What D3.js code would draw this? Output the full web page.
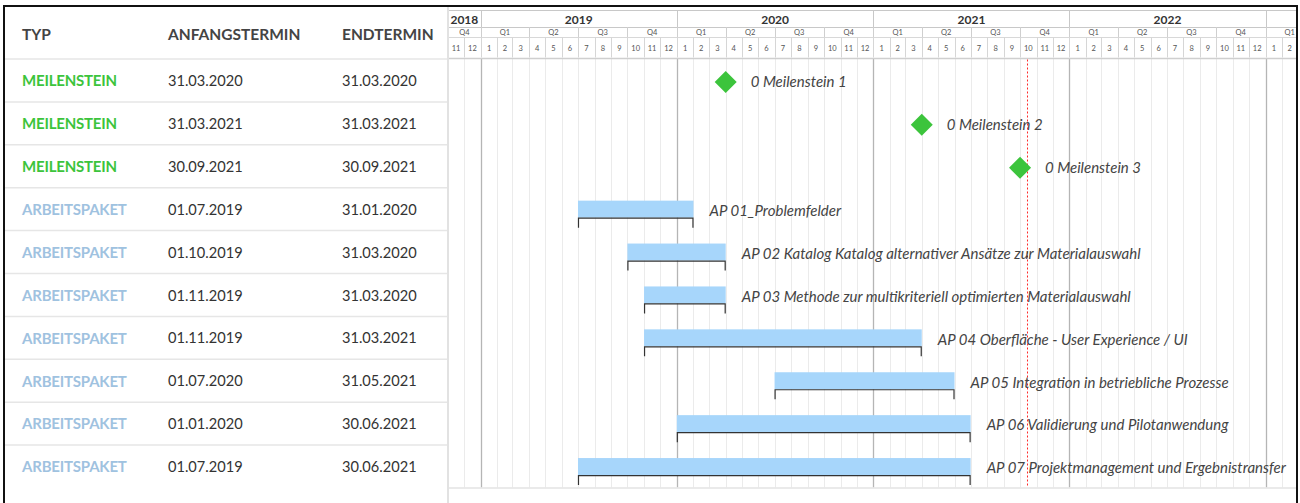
<!DOCTYPE html>
<html><head><meta charset="utf-8">
<script src="https://cdn.jsdelivr.net/npm/d3@7/dist/d3.min.js"></script>
<style>
html,body{margin:0;padding:0;background:#fff;}
svg{display:block;font-family:Lato,"Open Sans",sans-serif;}
</style></head>
<body>
<svg id="chart" width="1300" height="503"></svg>
<script>
// ---- data ----
const columnHeaders = ["TYP", "ANFANGSTERMIN", "ENDTERMIN"];
const types = ["MEILENSTEIN","MEILENSTEIN","MEILENSTEIN","ARBEITSPAKET","ARBEITSPAKET","ARBEITSPAKET","ARBEITSPAKET","ARBEITSPAKET","ARBEITSPAKET","ARBEITSPAKET"];
const startDates = ["31.03.2020","31.03.2021","30.09.2021","01.07.2019","01.10.2019","01.11.2019","01.11.2019","01.07.2020","01.01.2020","01.07.2019"];
const endDates   = ["31.03.2020","31.03.2021","30.09.2021","31.01.2020","31.03.2020","31.03.2020","31.03.2021","31.05.2021","30.06.2021","30.06.2021"];
const taskNames = [
  "0 Meilenstein 1",
  "0 Meilenstein 2",
  "0 Meilenstein 3",
  "AP 01_Problemfelder",
  "AP 02 Katalog Katalog alternativer Ansätze zur Materialauswahl",
  "AP 03 Methode zur multikriteriell optimierten Materialauswahl",
  "AP 04 Oberfläche - User Experience / UI",
  "AP 05 Integration in betriebliche Prozesse",
  "AP 06 Validierung und Pilotanwendung",
  "AP 07 Projektmanagement und Ergebnistransfer"
];
const todayDate = "14.10.2021";
const quarterLabels = ["Q1","Q2","Q3","Q4"];

// ---- layout ----
const W = 1300, H = 503;
const frame = {x0: 5, y0: 7, x1: 1296};
const ganttX0 = 448;
const headerTop = 10, quarterTop = 27, monthTop = 37, headerBottom = 58.5;
const rowH = 42.9;
const bodyBottom = headerBottom + rowH * types.length;
const colX = [22, 168, 342];

const parse = s => { const [d,m,y] = s.split(".").map(Number); return new Date(Date.UTC(y, m-1, d)); };
const addDay = d => new Date(d.getTime() + 864e5);

const x = d3.scaleUtc()
  .domain([new Date(Date.UTC(2018,10,1)), new Date(Date.UTC(2023,2,1))])
  .range([ganttX0, 1297.2]);
const extentStart = x.domain()[0];
const extentEnd = new Date(Date.UTC(2023,6,1));
const visibleRight = frame.x1 - 1;

const y = d3.scaleBand().domain(d3.range(types.length)).range([headerBottom, bodyBottom]);

const svg = d3.select("#chart");
svg.append("defs").append("clipPath").attr("id","clipG")
  .append("rect").attr("x", ganttX0).attr("y", frame.y0).attr("width", frame.x1 - ganttX0).attr("height", H);

// ---- left table ----
const tbl = svg.append("g");
tbl.selectAll("text.h").data(columnHeaders).join("text")
  .attr("x", (d,i)=>colX[i]).attr("y", 35).attr("dy","0.35em")
  .attr("font-size", 15.5).attr("font-weight", 700).attr("fill", "#444").text(d=>d);
tbl.selectAll("line.sep").data(d3.range(types.length)).join("line")
  .attr("x1", frame.x0).attr("x2", ganttX0-1)
  .attr("y1", i=>y(i)+0.5).attr("y2", i=>y(i)+0.5)
  .attr("stroke", "#e6e6e6").attr("stroke-width", 1.5);
const rows = tbl.selectAll("g.row").data(d3.range(types.length)).join("g")
  .attr("transform", i=>`translate(0,${y(i)+y.bandwidth()/2+1})`);
rows.append("text").attr("x", colX[0]).attr("dy","0.35em")
  .attr("font-size", 15).attr("font-weight", 700).attr("letter-spacing", -0.2)
  .attr("fill", i=> types[i]==="MEILENSTEIN" ? "#3cc43c" : "#9fc2e0").text(i=>types[i]);
rows.append("text").attr("x", colX[1]).attr("dy","0.35em")
  .attr("font-size", 14.6).attr("fill", "#333").text(i=>startDates[i]);
rows.append("text").attr("x", colX[2]).attr("dy","0.35em")
  .attr("font-size", 14.6).attr("fill", "#333").text(i=>endDates[i]);

// ---- gantt ----
const g = svg.append("g").attr("clip-path","url(#clipG)");

const months = d3.utcMonth.range(extentStart, extentEnd);
const years = d3.utcYear.range(d3.utcYear.floor(extentStart), extentEnd);
const quarters = d3.utcMonth.every(3).range(d3.utcMonth.every(3).floor(extentStart), extentEnd);
const clipL = d => x(d < extentStart ? extentStart : d);
const clipR = d => x(d > extentEnd ? extentEnd : d);
const fits = (cx, half) => cx + half <= visibleRight;

// body month grid
g.selectAll("line.mg").data(months).join("line")
  .attr("x1", d=>Math.round(x(d))+0.5).attr("x2", d=>Math.round(x(d))+0.5)
  .attr("y1", headerBottom).attr("y2", bodyBottom)
  .attr("stroke", d=> d.getUTCMonth()===0 ? "#b5b5b5" : "#ebebeb").attr("stroke-width", d=> d.getUTCMonth()===0 ? 1.3 : 1);

// header cells
const hdr = g.append("g");
hdr.append("line").attr("x1", ganttX0).attr("x2", W).attr("y1", headerTop+0.5).attr("y2", headerTop+0.5).attr("stroke","#c8c8c8");
hdr.append("line").attr("x1", ganttX0).attr("x2", W).attr("y1", quarterTop+0.5).attr("y2", quarterTop+0.5).attr("stroke","#c8c8c8");
hdr.append("line").attr("x1", ganttX0).attr("x2", W).attr("y1", monthTop+0.5).attr("y2", monthTop+0.5).attr("stroke","#d8d8d8");
hdr.append("line").attr("x1", ganttX0).attr("x2", W).attr("y1", headerBottom).attr("y2", headerBottom).attr("stroke","#cfcfcf").attr("stroke-width",1.5);

hdr.selectAll("line.yb").data(years.filter(d=>d>extentStart)).join("line")
  .attr("x1", d=>Math.round(x(d))+0.5).attr("x2", d=>Math.round(x(d))+0.5)
  .attr("y1", headerTop).attr("y2", quarterTop).attr("stroke","#c8c8c8");
const yearCx = d => (clipL(d) + clipR(d3.utcYear.offset(d,1)))/2;
hdr.selectAll("text.yl").data(years.filter(d=>fits(yearCx(d), 14))).join("text")
  .attr("x", yearCx).attr("y", (headerTop+quarterTop)/2+1).attr("dy","0.35em")
  .attr("text-anchor","middle").attr("font-size", 12).attr("font-weight",700).attr("fill","#333")
  .text(d=>d.getUTCFullYear());

hdr.selectAll("line.qb").data(quarters.filter(d=>d>extentStart)).join("line")
  .attr("x1", d=>Math.round(x(d))+0.5).attr("x2", d=>Math.round(x(d))+0.5)
  .attr("y1", quarterTop).attr("y2", monthTop).attr("stroke","#cfcfcf");
const qCx = d => (clipL(d) + x(d3.utcMonth.offset(d,3)))/2;
hdr.selectAll("text.ql").data(quarters.filter(d=>fits(qCx(d), 5))).join("text")
  .attr("x", qCx).attr("y", (quarterTop+monthTop)/2+0.5).attr("dy","0.35em")
  .attr("text-anchor","middle").attr("font-size", 7.5).attr("fill","#555")
  .text(d=>quarterLabels[Math.floor(d.getUTCMonth()/3)]);

hdr.selectAll("line.mb").data(months.filter(d=>d>extentStart)).join("line")
  .attr("x1", d=>Math.round(x(d))+0.5).attr("x2", d=>Math.round(x(d))+0.5)
  .attr("y1", monthTop).attr("y2", headerBottom-1).attr("stroke","#d6d6d6");
const mCx = d => (x(d) + x(d3.utcMonth.offset(d,1)))/2;
hdr.selectAll("text.ml").data(months.filter(d=>fits(mCx(d), 4))).join("text")
  .attr("x", mCx).attr("y", (monthTop+headerBottom)/2+1).attr("dy","0.35em")
  .attr("text-anchor","middle").attr("font-size", 7.5).attr("fill","#555")
  .text(d=>d.getUTCMonth()+1);

// body bottom line
g.append("line").attr("x1", ganttX0).attr("x2", W).attr("y1", bodyBottom+0.5).attr("y2", bodyBottom+0.5)
  .attr("stroke","#e3e3e3").attr("stroke-width",1.5);

// today line
const tx = Math.round(x(parse(todayDate)))+0.5;
g.append("line").attr("x1", tx).attr("x2", tx).attr("y1", headerBottom+1).attr("y2", bodyBottom)
  .attr("stroke","#ff2a2a").attr("stroke-width",1).attr("stroke-dasharray","2,2");

// tasks
const tasks = g.selectAll("g.task").data(d3.range(types.length)).join("g")
  .attr("transform", i=>`translate(0,${y(i)+y.bandwidth()/2})`);

tasks.each(function(i){
  const sel = d3.select(this);
  if (types[i] === "MEILENSTEIN") {
    const cx = x(addDay(parse(endDates[i])));
    const r = 11;
    sel.append("path")
      .attr("d", `M${cx},${2-r}L${cx+r},2L${cx},${2+r}L${cx-r},2Z`)
      .attr("fill", "#3cc43c");
    sel.append("text").attr("x", cx + 25).attr("y", 2).attr("dy","0.35em")
      .attr("font-size", 15).attr("font-style","italic").attr("fill","#444").text(taskNames[i]);
  } else {
    const x0 = x(parse(startDates[i])), x1 = x(addDay(parse(endDates[i])));
    sel.append("rect").attr("x", x0).attr("y", -8).attr("width", x1-x0).attr("height", 17)
      .attr("fill", "#a7d6fb");
    sel.append("path")
      .attr("d", `M${x0+0.5},${19}V${9.5}H${x1-0.5}V${19}`)
      .attr("fill","none").attr("stroke","#333").attr("stroke-width",1.2);
    sel.append("text").attr("x", x1 + 16).attr("y", 2).attr("dy","0.35em")
      .attr("font-size", 15).attr("font-style","italic").attr("fill","#444").text(taskNames[i]);
  }
});

// separator between table and gantt
svg.append("line").attr("x1", ganttX0).attr("x2", ganttX0).attr("y1", frame.y0).attr("y2", H)
  .attr("stroke","#e2e2e2").attr("stroke-width",2);

// outer frame
svg.append("rect").attr("x", frame.x0-1).attr("y", frame.y0-1).attr("width", frame.x1 - frame.x0 + 2).attr("height", H + 20)
  .attr("fill","none").attr("stroke","#111").attr("stroke-width",2);
</script>
</body></html>
